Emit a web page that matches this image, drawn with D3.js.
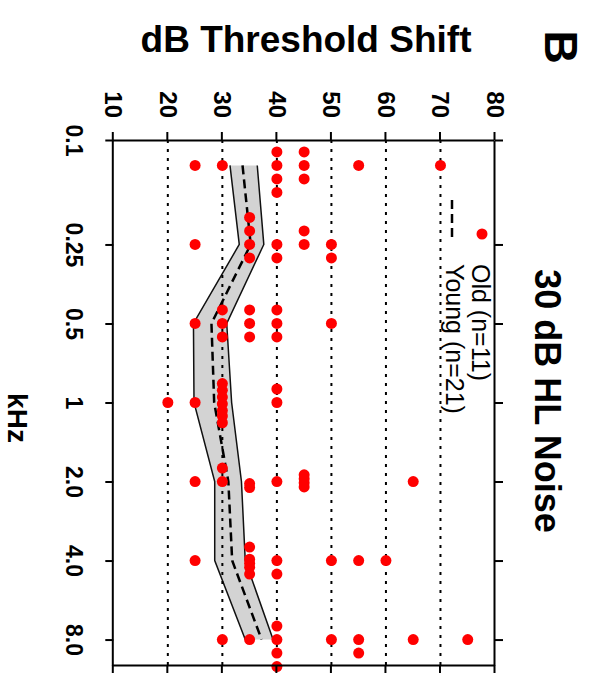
<!DOCTYPE html>
<html>
<head>
<meta charset="utf-8">
<script src="https://cdn.jsdelivr.net/npm/d3@7"></script>
<style>
body { margin: 0; background: #fff; }
text { font-family: Arial, "Liberation Sans", Helvetica, sans-serif; }
</style>
</head>
<body>
<div id="chart"></div>
<script>
// frequencies (kHz) where thresholds were measured
var freqs = [0.125, 0.25, 0.5, 1, 2, 4, 8];
var freqTicks = [0.1, 0.25, 0.5, 1, 2, 4, 8];
var freqLabels = ["0.1", "0.25", "0.5", "1", "2.0", "4.0", "8.0"];
var dbTicks = [10, 20, 30, 40, 50, 60, 70, 80];
var gridTicks = [20, 30, 40, 50, 60, 70];

// young group: mean and band
var youngMean = [33.7, 35.2, 28.0, 28.5, 31.1, 31.8, 37.2];
var youngLow  = [31.4, 33.1, 24.7, 24.8, 28.6, 28.6, 34.2];
var youngHigh = [36.4, 37.6, 30.8, 31.7, 33.5, 34.2, 39.3];

// old group: one row per frequency, one value per subject
var oldDb = [
	[25, 30, 40, 40, 40, 40, 45, 45, 45, 55, 70],
	[25, 35, 35, 35, 35, 40, 40, 45, 45, 50, 50],
	[25, 30, 30, 30, 35, 35, 35, 40, 40, 40, 50],
	[20, 25, 30, 30, 30, 30, 30, 30, 30, 40, 40],
	[25, 30, 30, 35, 35, 40, 45, 45, 45, 45, 65],
	[25, 35, 35, 35, 35, 35, 40, 40, 50, 55, 60],
	[30, 35, 40, 40, 40, 40, 50, 55, 55, 65, 75]
];
// stacking order of tied values (in stack slots)
var oldSlot = [
	[0, 0, -1, 0, 1, 2, -1, 0, 1, 0, 0],
	[0, -2, -1, 0, 1, 0, 1, -1, 0, 0, 1],
	[0, -1, 0, 1, -1, 0, 1, -1, 0, 1, 0],
	[0, 0, -1.4, -0.9, -0.4, 0.1, 0.6, 1.0, 1.5, -1, 0],
	[0, -1, 0, 0.15, 0.45, 0, -0.5, -0.2, 0.1, 0.4, 0],
	[0, -1, -0.1, 0.2, 0.5, 1, 0, 1, 0, 0, 0],
	[0, 0, -1, 0, 1, 2, 0, 0, 1, 0, 0]
];

var width = 592, height = 675;
var slotPx = 13.5;

var svg = d3.select("#chart")
	.append("svg")
	.attr("width", width)
	.attr("height", height);

// the figure is drawn upright and then turned a quarter turn clockwise
var g = svg.append("g")
	.attr("transform", "translate(" + width + ",0) rotate(90)");

var x = d3.scaleLog().domain([0.1, 10]).range([140, 665]);
var y = d3.scaleLinear().domain([10, 80]).range([478.7, 97]);

// young band
var band = freqs.map(function(f, i) { return {f: f, lo: youngLow[i], hi: youngHigh[i], m: youngMean[i]}; });

g.append("path")
	.datum(band)
	.attr("fill", "#d3d3d3")
	.attr("stroke", "none")
	.attr("d", d3.area()
		.x(function(d) { return x(d.f); })
		.y0(function(d) { return y(d.lo); })
		.y1(function(d) { return y(d.hi); }));

["lo", "hi"].forEach(function(k) {
	g.append("path")
		.datum(band)
		.attr("fill", "none")
		.attr("stroke", "#111")
		.attr("stroke-width", 1.5)
		.attr("d", d3.line()
			.x(function(d) { return x(d.f); })
			.y(function(d) { return y(d[k]); }));
});

// dotted grid
g.selectAll(".grid")
	.data(gridTicks)
	.enter()
	.append("line")
	.attr("class", "grid")
	.attr("x1", x(0.1))
	.attr("x2", x(10))
	.attr("y1", function(d) { return y(d); })
	.attr("y2", function(d) { return y(d); })
	.attr("stroke", "#000")
	.attr("stroke-width", 2)
	.attr("stroke-dasharray", "3,6");

// young mean
g.append("path")
	.datum(band)
	.attr("fill", "none")
	.attr("stroke", "#000")
	.attr("stroke-width", 2.5)
	.attr("stroke-dasharray", "9,5")
	.attr("d", d3.line()
		.x(function(d) { return x(d.f); })
		.y(function(d) { return y(d.m); }));

// old subjects
var pts = [];
freqs.forEach(function(f, i) {
	oldDb[i].forEach(function(v, j) {
		pts.push({f: f, v: v, s: oldSlot[i][j]});
	});
});

g.selectAll(".dot")
	.data(pts)
	.enter()
	.append("circle")
	.attr("class", "dot")
	.attr("cx", function(d) { return x(d.f) + d.s * slotPx; })
	.attr("cy", function(d) { return y(d.v); })
	.attr("r", 5.5)
	.attr("fill", "#ff0000");

// axes
function styleAxis(sel) {
	sel.selectAll("path, line").attr("stroke", "#000").attr("stroke-width", 2);
	sel.selectAll("text")
		.attr("fill", "#000")
		.style("font-family", "Arial, 'Liberation Sans', sans-serif")
		.style("font-weight", "bold");
}

g.append("g")
	.attr("transform", "translate(" + x(0.1) + ",0)")
	.call(d3.axisLeft(y).tickValues(dbTicks).tickSize(8).tickSizeOuter(0).tickPadding(14))
	.call(styleAxis)
	.selectAll("text").style("font-size", "24px");

g.append("g")
	.attr("transform", "translate(0," + y(10) + ")")
	.call(d3.axisBottom(x).tickValues(freqTicks).tickSize(8).tickSizeOuter(0).tickPadding(23)
		.tickFormat(function(d, i) { return freqLabels[i]; }))
	.call(styleAxis)
	.selectAll("text").style("font-size", "23px");

g.append("g")
	.attr("transform", "translate(0," + y(80) + ")")
	.call(d3.axisTop(x).tickValues(freqTicks).tickSize(8).tickSizeOuter(0).tickFormat(""))
	.call(styleAxis);

g.append("g")
	.attr("transform", "translate(" + x(10) + ",0)")
	.call(d3.axisRight(y).tickValues(dbTicks).tickSize(8).tickSizeOuter(0).tickFormat(""))
	.call(styleAxis);

// titles
g.append("text")
	.attr("transform", "translate(52,286) rotate(-90)")
	.attr("text-anchor", "middle")
	.style("font-size", "37px")
	.style("font-weight", "bold")
	.text("dB Threshold Shift");

g.append("text")
	.attr("x", 418)
	.attr("y", 584)
	.attr("text-anchor", "middle")
	.style("font-size", "28px")
	.style("font-weight", "bold")
	.text("kHz");

g.append("text")
	.attr("x", 401)
	.attr("y", 57)
	.attr("text-anchor", "middle")
	.style("font-size", "36px")
	.style("font-weight", "bold")
	.text("30 dB HL Noise");

g.append("text")
	.attr("x", 47)
	.attr("y", 47)
	.attr("text-anchor", "middle")
	.style("font-size", "46px")
	.style("font-weight", "bold")
	.text("B");

// legend
var legend = g.append("g");
legend.append("circle")
	.attr("cx", 234)
	.attr("cy", 110)
	.attr("r", 5.5)
	.attr("fill", "#ff0000");
legend.append("line")
	.attr("x1", 200)
	.attr("x2", 240)
	.attr("y1", 140)
	.attr("y2", 140)
	.attr("stroke", "#000")
	.attr("stroke-width", 2.5)
	.attr("stroke-dasharray", "9,5");
legend.append("text")
	.attr("x", 264)
	.attr("y", 120)
	.style("font-size", "25px")
	.text("Old (n=11)");
legend.append("text")
	.attr("x", 264)
	.attr("y", 146)
	.style("font-size", "25px")
	.text("Young (n=21)");
</script>
</body>
</html>
